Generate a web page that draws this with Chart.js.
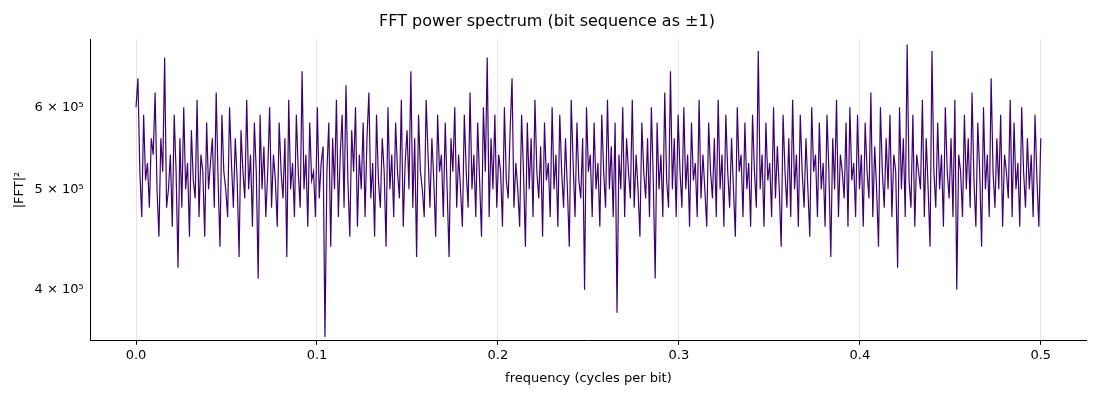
<!DOCTYPE html>
<html>
<head>
<meta charset="utf-8">
<script src="https://cdn.jsdelivr.net/npm/chart.js@4"></script>
<style>
  body { margin: 0; background: #fff; }
  #wrap { width: 1100px; height: 400px; }
</style>
</head>
<body>
<div id="wrap"><canvas id="c"></canvas></div>
<script>
// power values in thousands (0 .. 0.5 cycles per bit)
const powerK = [
  600,640,520,470,590,510,530,480,560,540,620,500,450,560,520,670,480,500,540,460,
  590,520,420,560,480,600,500,530,450,570,510,490,610,470,540,520,450,580,500,530,
  560,480,620,510,440,590,520,500,470,600,530,480,560,510,430,570,520,490,610,500,
  540,460,580,520,410,590,500,550,470,520,600,480,540,510,460,580,520,490,560,430,
  610,500,530,470,590,520,480,650,500,540,460,580,510,520,470,600,490,530,550,360,
  520,580,440,560,500,610,470,540,590,480,630,510,450,570,520,600,460,540,500,580,
  470,560,620,490,530,450,590,510,480,560,520,440,600,500,540,470,580,520,490,610,
  460,530,570,500,650,480,560,430,590,520,500,470,610,540,480,560,510,450,590,520,
  540,470,580,500,430,560,520,600,480,540,500,460,590,520,480,620,500,540,470,580,
  510,450,600,520,670,470,560,500,590,480,540,520,460,600,510,490,570,640,480,530,
  500,460,590,520,440,580,500,560,470,610,520,490,550,450,580,510,530,470,600,500,
  540,460,590,520,480,560,500,440,610,530,470,580,510,490,560,400,600,520,540,470,
  580,500,530,460,590,520,480,610,500,550,470,580,380,540,500,600,470,560,520,490,
  610,480,540,500,450,580,520,490,560,470,600,510,410,580,500,540,470,620,510,480,
  650,500,560,470,590,520,480,600,500,540,460,580,510,530,470,610,490,540,500,460,
  580,520,490,560,470,610,500,540,460,590,520,480,560,500,450,600,520,540,470,580,
  500,530,460,590,520,480,680,500,540,460,580,510,530,470,600,490,550,500,440,590,
  520,480,560,470,610,500,540,460,590,520,480,560,500,450,600,520,540,470,580,500,
  530,460,590,520,430,560,500,610,470,540,520,490,580,460,600,510,530,470,590,500,
  540,460,580,520,490,620,470,550,500,440,600,520,480,560,500,590,470,540,520,420,
  600,500,560,470,690,510,480,590,460,540,520,500,610,470,560,500,440,680,520,480,
  580,500,540,460,600,520,490,560,470,610,400,540,520,470,590,500,560,480,620,510,
  460,580,520,440,600,500,540,470,640,520,480,560,500,590,460,540,520,490,610,470,
  580,500,530,460,600,520,480,560,500,540,470,590,510,460,560
];
const binCount = powerK.length;
const points = powerK.map((v, i) => ({ x: (i / (binCount - 1)) * 0.5, y: v * 1000 }));
const yTicks = [400000, 500000, 600000];

new Chart(document.getElementById('c'), {
  type: 'line',
  data: {
    datasets: [{
      data: points,
      borderColor: '#3d0070',
      borderWidth: 1.2,
      pointRadius: 0,
      tension: 0,
    }],
  },
  options: {
    responsive: true,
    maintainAspectRatio: false,
    animation: false,
    layout: { padding: { top: 2, right: 14, bottom: 10, left: 8 } },
    plugins: {
      legend: { display: false },
      tooltip: { enabled: false },
      title: {
        display: true,
        text: 'FFT power spectrum (bit sequence as ±1)',
        color: '#000',
        font: { family: 'DejaVu Sans', size: 16, weight: 'normal' },
        padding: { top: 10, bottom: 8 },
      },
    },
    scales: {
      x: {
        type: 'linear',
        min: -0.025,
        max: 0.525,
        afterBuildTicks: (ax) => { ax.ticks = [0, 0.1, 0.2, 0.3, 0.4, 0.5].map((v) => ({ value: v })); },
        ticks: {
          color: '#000',
          font: { family: 'DejaVu Sans', size: 13 },
          callback: (v) => v.toFixed(1),
          maxRotation: 0,
        },
        grid: { color: 'rgba(0,0,0,0.1)', drawTicks: true, tickColor: '#000', tickLength: 4 },
        border: { color: '#000' },
        title: {
          display: true,
          text: 'frequency (cycles per bit)',
          color: '#000',
          font: { family: 'DejaVu Sans', size: 13 },
        },
      },
      y: {
        type: 'logarithmic',
        min: 357000,
        max: 698000,
        afterBuildTicks: (ax) => { ax.ticks = yTicks.map((v) => ({ value: v })); },
        ticks: {
          color: '#000',
          font: { family: 'DejaVu Sans', size: 13 },
          callback: (v) => (v / 100000) + ' × 10⁵',
        },
        grid: { display: false, drawTicks: true, tickColor: '#000', tickLength: 4 },
        border: { color: '#000' },
        title: {
          display: true,
          text: '|FFT|²',
          color: '#000',
          font: { family: 'DejaVu Sans', size: 13 },
        },
      },
    },
  },
});
</script>
</body>
</html>
